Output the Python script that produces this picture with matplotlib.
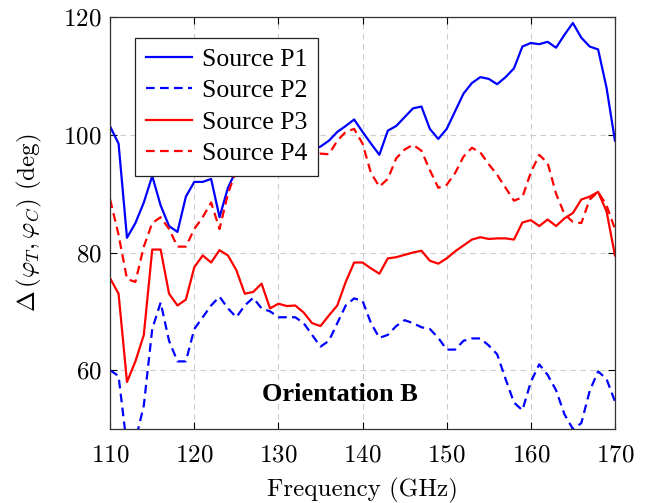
import matplotlib.pyplot as plt
import numpy as np

# frequency (GHz), 1 GHz steps
freq = np.arange(110, 171)

p1 = [101.4, 98.5, 82.5, 85.0, 88.5, 93.0, 88.0, 84.5, 83.5, 89.5,
      92.0, 92.0, 92.5, 86.0, 91.0, 94.0, 95.0, 96.0, 96.0, 96.5,
      97.0, 97.0, 97.0, 97.5, 97.5, 98.0, 99.0, 100.5, 101.5, 102.6,
      100.5, 98.5, 96.6, 100.7, 101.5, 103.0, 104.5, 104.8, 101.0, 99.3,
      101.0, 104.0, 107.0, 108.8, 109.8, 109.5, 108.6, 109.8, 111.3, 115.0,
      115.6, 115.4, 115.8, 114.8, 117.0, 119.0, 116.5, 115.0, 114.5, 108.0,
      99.0]
p2 = [60.0, 59.0, 47.0, 48.0, 54.0, 67.0, 71.5, 65.0, 61.5, 61.5,
      67.0, 69.0, 71.0, 72.5, 70.5, 69.0, 71.0, 72.3, 70.5, 70.0,
      69.0, 69.0, 69.0, 68.0, 66.0, 64.0, 65.0, 68.0, 71.0, 72.2,
      71.8, 68.0, 65.5, 66.0, 67.5, 68.5, 68.0, 67.3, 67.0, 65.5,
      63.5, 63.5, 65.0, 65.4, 65.4, 64.2, 62.7, 58.5, 54.5, 53.2,
      58.0, 61.0, 59.2, 56.6, 52.5, 50.0, 51.0, 56.5, 59.8, 58.5,
      54.7]
p3 = [75.6, 73.0, 58.0, 61.5, 66.0, 80.5, 80.5, 73.0, 71.0, 72.0,
      77.5, 79.5, 78.3, 80.4, 79.5, 77.0, 73.0, 73.3, 74.7, 70.5,
      71.3, 70.9, 71.0, 69.8, 68.0, 67.5, 69.3, 71.0, 75.0, 78.3,
      78.3, 77.3, 76.4, 79.0, 79.2, 79.6, 80.0, 80.3, 78.6, 78.1,
      79.0, 80.2, 81.2, 82.2, 82.6, 82.3, 82.4, 82.4, 82.2, 85.1,
      85.5, 84.5, 85.6, 84.5, 85.8, 86.7, 89.0, 89.5, 90.3, 87.0,
      79.5]
p4 = [89.0, 83.0, 75.5, 75.0, 81.0, 85.0, 86.0, 84.0, 81.0, 81.0,
      84.0, 86.0, 88.5, 84.0, 90.0, 94.0, 95.0, 96.0, 96.0, 96.5,
      97.0, 96.5, 96.0, 96.0, 96.5, 96.8, 96.7, 99.0, 100.5, 101.0,
      98.5, 93.5, 91.2, 92.5, 96.0, 97.5, 98.3, 97.3, 94.0, 91.0,
      91.5, 93.5, 96.3, 97.8, 97.0, 95.0, 93.2, 91.0, 88.8, 89.4,
      93.6, 96.6, 95.2, 90.0, 86.5, 85.2, 85.0, 89.0, 90.3, 88.0,
      84.0]

plt.rcParams['mathtext.fontset'] = 'cm'
plt.rcParams['axes.formatter.use_mathtext'] = True

fig = plt.figure(figsize=(6.48, 5.03), dpi=100)
ax = fig.add_axes([0.170, 0.147, 0.779, 0.819])

dash = (0, (3.9, 2.4))
ax.plot(freq, p1, color='#0000ff', lw=1.6, label='Source P1')
ax.plot(freq, p2, color='#0000ff', lw=1.6, linestyle=dash, label='Source P2')
ax.plot(freq, p3, color='#ff0000', lw=1.6, label='Source P3')
ax.plot(freq, p4, color='#ff0000', lw=1.6, linestyle=dash, label='Source P4')

ax.set_xlim(110, 170)
ax.set_ylim(50, 120)
ax.set_xticks(np.arange(110, 171, 10))
ax.set_yticks([60, 80, 100, 120])
ax.grid(True, color='#cccccc', linestyle=(0, (5, 4)), linewidth=0.8)
ax.tick_params(direction='in', top=True, right=True, length=5, width=0.8,
               labelsize=18, pad=6)
ax.tick_params(axis='x', pad=11)
for lab in ax.get_xticklabels() + ax.get_yticklabels():
    lab.set_family('cmr10')
for sp in ax.spines.values():
    sp.set_color('#333333')
    sp.set_linewidth(0.9)

ax.set_xlabel('Frequency (GHz)', family='cmr10', fontsize=18, labelpad=8)
ax.set_ylabel(r'$\Delta\,(\varphi_T, \varphi_C)$ (deg)', family='cmr10',
              fontsize=18, labelpad=14)

ax.text(137.3, 55.9, 'Orientation B', family='Liberation Serif',
        fontweight='bold', fontsize=19, ha='center', va='center')

leg = ax.legend(loc='upper left', bbox_to_anchor=(0.05, 0.95),
                prop={'family': 'Liberation Serif', 'size': 18.5},
                fancybox=False, framealpha=1, edgecolor='#222222',
                handlelength=1.8, borderpad=0.4, labelspacing=0.33,
                handletextpad=0.4, borderaxespad=0)
leg.get_frame().set_linewidth(0.9)

plt.savefig('out.png', dpi=100)
